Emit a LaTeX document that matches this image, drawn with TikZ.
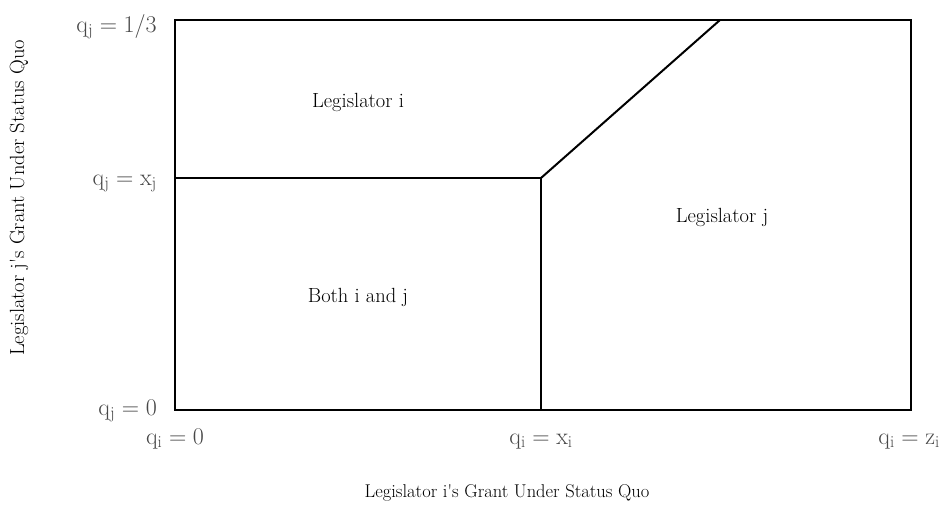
\RequirePackage{fix-cm}
\documentclass[tikz,border=0pt]{standalone}
\usepackage{fontspec}
\setmainfont{Latin Modern Roman}
\begin{document}
\begin{tikzpicture}[x=1pt,y=-1pt,
  frame/.style={line width=2pt,black},
  tick/.style={text=black!72,font=\fontsize{24}{28}\selectfont,inner sep=0pt},
  region/.style={font=\fontsize{20.5}{24}\selectfont,inner sep=0pt},
  axis/.style={font=\fontsize{18.5}{22}\selectfont,inner sep=0pt},
  yaxis/.style={font=\fontsize{20.5}{24}\selectfont,inner sep=0pt,rotate=90}]
\useasboundingbox (0,0) rectangle (941,506);
\coordinate (bl) at (175,410);
\coordinate (tr) at (911,20);
\coordinate (tl) at (175,20);
\coordinate (ml) at (175,178);
\coordinate (kink) at (541,178);
\coordinate (bm) at (541,410);
\coordinate (tk) at (720,20);
\draw[frame] (bl) rectangle (tr);
\draw[frame] (ml) -- (kink) -- (bm);
\draw[frame] (kink) -- (tk);
\node[tick,anchor=base east] (qj3) at (157,32) {$\mathrm{q}_{\mathrm{j}}=1/3$};
\node[tick,anchor=base east] (qjx) at (157,185) {$\mathrm{q}_{\mathrm{j}}=\mathrm{x}_{\mathrm{j}}$};
\node[tick,anchor=base east] (qj0) at (157,415) {$\mathrm{q}_{\mathrm{j}}=0$};
\node[tick,anchor=base] (qi0) at (175,444) {$\mathrm{q}_{\mathrm{i}}=0$};
\node[tick,anchor=base] (qix) at (541,444) {$\mathrm{q}_{\mathrm{i}}=\mathrm{x}_{\mathrm{i}}$};
\node[tick,anchor=base east] (qiz) at (940,444) {$\mathrm{q}_{\mathrm{i}}=\mathrm{z}_{\mathrm{i}}$};
\node[region,anchor=base] (li) at (358,107) {Legislator i};
\node[region,anchor=base] (lj) at (722,222) {Legislator j};
\node[region,anchor=base] (both) at (358,302) {Both i and j};
\node[axis,anchor=base] (xl) at (507,497) {Legislator i\textquotesingle s Grant Under Status Quo};
\node[yaxis,anchor=base] (yl) at (24,198) {Legislator j\textquotesingle s Grant Under Status Quo};
\end{tikzpicture}
\end{document}
